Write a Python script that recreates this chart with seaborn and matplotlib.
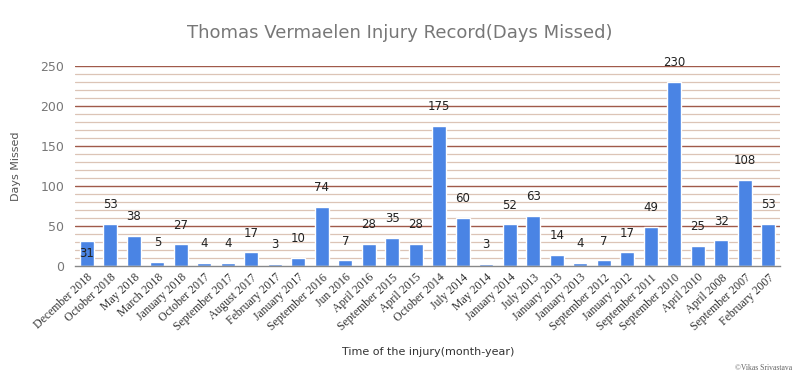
import numpy as np
import pandas as pd
import matplotlib
matplotlib.use("Agg")
import matplotlib.pyplot as plt
import seaborn as sns

categories = ["December 2018", "October 2018", "May 2018", "March 2018", "January 2018",
              "October 2017", "September 2017", "August 2017", "February 2017", "January 2017",
              "September 2016", "Jun 2016", "April 2016", "September 2015", "April 2015",
              "October 2014", "July 2014", "May 2014", "January 2014", "July 2013",
              "January 2013", "January 2013", "September 2012", "January 2012", "September 2011",
              "September 2010", "April 2010", "April 2008", "September 2007", "February 2007"]
days_missed = [31, 53, 38, 5, 27, 4, 4, 17, 3, 10, 74, 7, 28, 35, 28, 175, 60, 3, 52, 63,
               14, 4, 7, 17, 49, 230, 25, 32, 108, 53]
y_ticks = [0, 50, 100, 150, 200, 250]

sns.set_theme(style="white")
plt.rcParams['font.family'] = ['DejaVu Sans']

df = pd.DataFrame({"idx": [str(i) for i in range(len(categories))], "days": days_missed})

fig = plt.figure(figsize=(8, 3.8), dpi=100)
ax = fig.add_axes([0.094, 0.30, 0.881, 0.526])

# grid lines
for v in range(10, 251, 10):
    if v % 50 == 0:
        ax.axhline(v, color="#a05a4a", lw=1.0, zorder=0)
    else:
        ax.axhline(v, color="#dcc4b6", lw=0.9, zorder=0)

sns.barplot(data=df, x="idx", y="days", color="#4a84e4", saturation=1, width=0.6,
            ax=ax, zorder=2)

for i, v in enumerate(days_missed):
    if i == 0:
        ax.text(i, v - 15, str(v), ha="center", va="center", fontsize=8.5, color="#222222", zorder=3)
    else:
        ax.text(i, v + 24, str(v), ha="center", va="center", fontsize=8.5, color="#222222", zorder=3)

ax.set_ylim(0, 250)
ax.set_xlim(-0.5, len(categories) - 0.5)
ax.set_yticks(y_ticks)
ax.set_yticklabels([str(t) for t in y_ticks], color="#777777", fontsize=9)
ax.set_xticks(range(len(categories)))
ax.set_xticklabels(categories, rotation=43, ha="right", rotation_mode="anchor",
                   fontsize=8.5, family="Liberation Serif", color="#333333")
ax.tick_params(axis="both", length=0, pad=4)
ax.tick_params(axis="y", pad=8)

for s in ["top", "right", "left"]:
    ax.spines[s].set_visible(False)
ax.spines["bottom"].set_color("#888888")
ax.spines["bottom"].set_linewidth(1.0)

ax.set_xlabel("")
ax.set_ylabel("Days Missed", fontsize=8, color="#555555", labelpad=14)

fig.text(0.5, 0.913, "Thomas Vermaelen Injury Record(Days Missed)", ha="center", va="center",
         fontsize=13, color="#777777")
fig.text(0.535, 0.073, "Time of the injury(month-year)", ha="center", va="center",
         fontsize=8, color="#333333")
fig.text(0.99, 0.02, "\u00a9Vikas Srivastava", ha="right", va="bottom",
         fontsize=5.5, family="Liberation Serif", color="#666666")

fig.savefig("out.png", dpi=100, facecolor="white")
